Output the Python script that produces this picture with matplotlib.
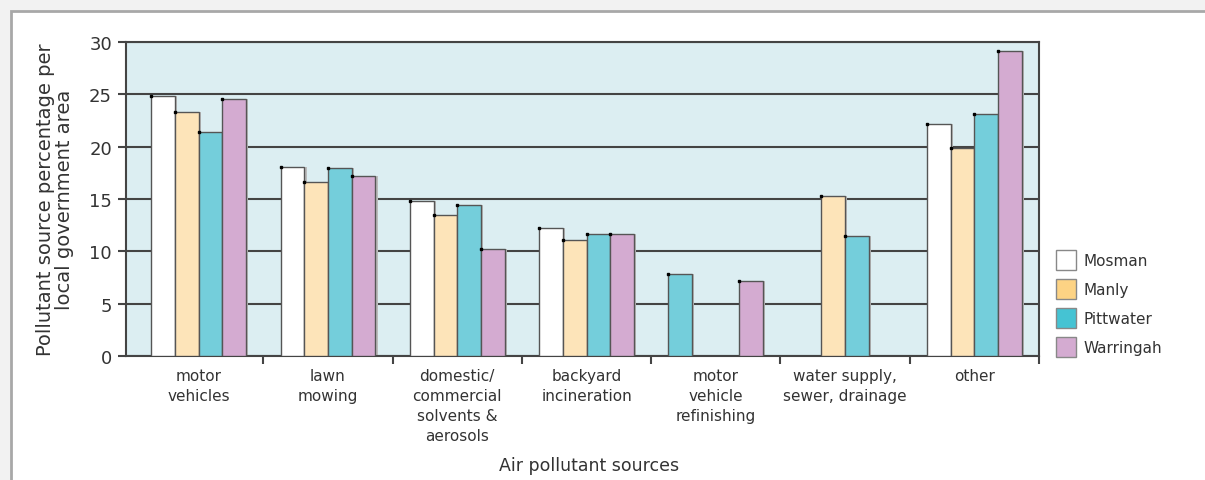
import numpy as np
import matplotlib.pyplot as plt
from matplotlib.patches import Rectangle, Patch

plt.rcParams['font.family'] = ['DejaVu Sans']

# --- data ---
categories = ['motor\nvehicles', 'lawn\nmowing', 'domestic/\ncommercial\nsolvents &\naerosols',
              'backyard\nincineration', 'motor\nvehicle\nrefinishing',
              'water supply,\nsewer, drainage', 'other']
series = ['Mosman', 'Manly', 'Pittwater', 'Warringah']
mosman = [24.8, 18.1, 14.8, 12.2, 0, 0, 22.2]
manly = [23.3, 16.6, 13.5, 11.1, 0, 15.3, 19.9]
pittwater = [21.4, 18.0, 14.4, 11.7, 7.8, 11.5, 23.1]
warringah = [24.6, 17.2, 10.2, 11.7, 7.2, 0, 29.1]
values = [mosman, manly, pittwater, warringah]

bar_colors = ['#ffffff', '#fde4b9', '#74cedb', '#d4abd1']
legend_colors = ['#ffffff', '#fdd384', '#45c3d3', '#d4abd1']
text_col = '#333333'
line_col = '#444444'

# in the original, the Pittwater bar of "motor vehicle refinishing" sits in the first slot
slot_override = {(4, 2): 0}

fig = plt.figure(figsize=(12.05, 4.81), dpi=100)
fig.patch.set_facecolor('#f2f2f2')
# white panel with grey frame
fig.patches.append(Rectangle((11 / 1205, -0.2), 1.2, 1.2 - 12 / 481,
                             transform=fig.transFigure, facecolor='white',
                             edgecolor='#a8a8a8', linewidth=2, zorder=-10))

ax = fig.add_axes([126 / 1205, 1 - 357 / 481, 913 / 1205, 314 / 481])
ax.set_facecolor('#dceef2')

x = np.arange(len(categories))
w = 0.183
for j, (vals, c) in enumerate(zip(values, bar_colors)):
    for i, v in enumerate(vals):
        if v <= 0:
            continue
        slot = slot_override.get((i, j), j)
        left = i + 0.5 + (slot - 2) * w
        # light shadow
        ax.bar(left + 0.018, v, width=w, align='edge', color='#bbbbbb',
               linewidth=0, zorder=2)
        ax.bar(left, v, width=w, align='edge', color=c,
               edgecolor='#555555', linewidth=1, zorder=3)
        ax.plot(left, v, 's', color='black', markersize=2, zorder=4)

ax.set_xlim(-0.062, 7)
ax.set_ylim(0, 30)
ax.set_yticks(np.arange(0, 31, 5))
ax.yaxis.grid(True, color=line_col, linewidth=1.5, zorder=1)
ax.set_axisbelow(True)
for s in ax.spines.values():
    s.set_color(line_col)
    s.set_linewidth(1.5)

ax.tick_params(axis='y', length=6, width=1.5, color=line_col, labelsize=13,
               labelcolor=text_col, pad=4)
ax.set_xticks(np.arange(1, 8))
ax.set_xticklabels([])
ax.tick_params(axis='x', length=6, width=1.5, color=line_col)
ax.set_xticks(x + 0.5, minor=True)
ax.set_xticklabels(categories, minor=True, fontsize=11, color=text_col,
                   linespacing=1.4, va='top')
ax.tick_params(axis='x', which='minor', length=0, pad=9)

ax.set_ylabel('Pollutant source percentage per\nlocal government area',
              fontsize=14, color=text_col, labelpad=11, linespacing=1.0)
fig.text(589 / 1205, 1 - 466 / 481, 'Air pollutant sources', ha='center',
         va='center', fontsize=12.5, color=text_col)

handles = [Patch(facecolor=c, edgecolor='#888888', linewidth=1) for c in legend_colors]
fig.legend(handles, series, loc='upper left',
           bbox_to_anchor=(1042 / 1205, 1 - 237 / 481), frameon=False,
           fontsize=11, handlelength=1.31, handleheight=1.64, labelspacing=0.59,
           handletextpad=0.5, labelcolor=text_col)

fig.savefig('out.png', dpi=100, facecolor=fig.get_facecolor())
